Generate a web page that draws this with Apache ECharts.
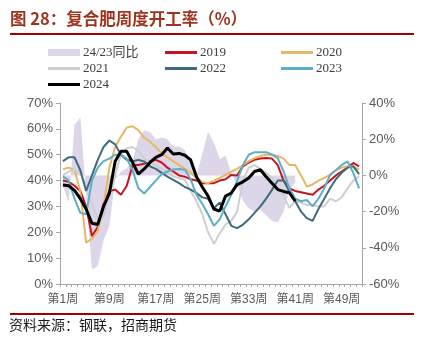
<!DOCTYPE html>
<html>
<head>
<meta charset="utf-8">
<script src="https://cdn.jsdelivr.net/npm/echarts@6/dist/echarts.min.js"></script>
<style>html,body{margin:0;padding:0;background:#fff}#c{width:422px;height:344px}</style>
</head>
<body>
<div id="c"></div>
<script>
var weeks = ['第1周','第2周','第3周','第4周','第5周','第6周','第7周','第8周','第9周','第10周',
'第11周','第12周','第13周','第14周','第15周','第16周','第17周','第18周','第19周','第20周',
'第21周','第22周','第23周','第24周','第25周','第26周','第27周','第28周','第29周','第30周',
'第31周','第32周','第33周','第34周','第35周','第36周','第37周','第38周','第39周','第40周',
'第41周','第42周','第43周','第44周','第45周','第46周','第47周','第48周','第49周','第50周',
'第51周','第52周'];

var yoy2423 = [-6,-15,28,32,-10,-52,-50,-36,-28,-2,2,4,8,20,25,24,20,21,20,16,16,14,6,0,12,24,18,9,11,1,-5,-14,-18,-20,-19,-22,-25,-26,-20,-8,-4];

var y2019 = [40,39.5,38,36,30,18.5,22,31,36,36.5,34.5,38,46,46,46.5,47.4,48,47,45,43.5,42,41.5,40.5,40,39,39,39,40,40.5,42.2,42,45.5,47,48,48.5,48.7,48.5,46,40,37,36,35.5,35,34.5,36.5,38,40,42,43.5,45,46.8,45.5];

var y2020 = [44.4,45,44,36,16,17.5,20.5,30,45,53,57,60.5,61,59.5,56.5,55,53,50.5,49,47.5,46,44.5,43,41,39.5,39,40,41,42.2,43.5,44.5,46,47.5,48.7,49.5,50,50,49.5,48.5,46,46,42,37.7,38.5,40,41,42.2,44,45,45.5,45.5,44.2];

var y2021 = [42,43.5,44.2,43,38,31,25,26,35,42,50.5,52.5,53,51.5,48.5,46.8,46,44.5,43,41.6,41,40.3,36,32,27,20,15.5,19.5,23,24.5,28,40,45,46,44.5,43,41,37,34,29.5,32,31.5,30.5,30.7,30,30,33,32,33.5,37,40,41.6];

var y2022 = [47.5,49,49,44,36,42,48,53,55.5,54,50,48,47.5,48,47.4,45.5,44.5,43,41.5,40.3,39,37.5,36.5,35.2,33.5,33,29.3,31.5,27,22.5,21.6,23,25,27.5,30,33,36.4,40,40,35.8,32,28,25.5,24.4,29,33,37,40.5,43,45,45.5,42.5];

var y2023 = [41.6,40,33,27.5,27,40,45,47.5,48.5,50,50,48.5,44,37,35,37.5,40,42.5,43.5,44.3,44.5,44.2,40.5,34.5,31,27,22.5,25,30,34.5,40,46,50,51,51,51,50,48.7,43.5,37,33,32,32.5,30,33,37,42.2,44,46,47.4,43,37];

var y2024 = [38.3,38,36.2,33,29,23.5,23,30,35,47.5,51.3,51.3,47,42.5,44.5,47,49,50,52.6,50.3,50.5,49.8,48,41.5,37.5,34,29,28.2,34,35.2,38.4,39.5,41,43.5,44.2,41.5,39,36.5,35.8,35.3,32];

var leftTicks = {min:0, max:70, interval:10};
var rightTicks = {min:-60, max:40, interval:20};

var chart = echarts.init(document.getElementById('c'), null, {renderer:'canvas'});
var sans = 'Liberation Sans, Arial, Noto Sans CJK SC, sans-serif';
var serif = 'Liberation Serif, Times New Roman, Noto Sans CJK SC, serif';
var labelColor = '#595959';
var axisColor = '#A6A6A6';

function lineSeries(name, data, color, width, z) {
  return {name:name, type:'line', data:data, showSymbol:false, symbol:'none',
    lineStyle:{color:color, width:width}, itemStyle:{color:color}, z:z, smooth:false};
}
function leg(name, left, top, h) {
  return {data:[name], left:left, top:top, itemWidth:32, itemHeight:h, icon:'rect',
    selectedMode:false, padding:0, itemGap:0,
    textStyle:{fontFamily:serif, fontSize:13, color:'#404040', padding:[0,0,0,-2]}};
}

chart.setOption({
  animation:false,
  title:[
    {text:'图 28：复合肥周度开工率（%）', left:10, top:10, padding:0,
     textStyle:{fontFamily:'Noto Sans CJK SC, sans-serif', fontSize:16.5, fontWeight:'bold', color:'#9E3420'}},
    {text:'资料来源：钢联，招商期货', left:9, top:318, padding:0,
     textStyle:{fontFamily:'Noto Sans CJK SC, sans-serif', fontSize:14, fontWeight:'normal', color:'#1a1a1a'}}
  ],
  graphic:[
    {type:'line', shape:{x1:10, y1:34, x2:414, y2:34}, style:{stroke:'#A00000', lineWidth:2}},
    {type:'line', shape:{x1:10, y1:314, x2:414, y2:314}, style:{stroke:'#A00000', lineWidth:2}}
  ],
  legend:[
    leg('24/23同比', 48, 46, 7),
    leg('2019', 165, 46, 3),
    leg('2020', 281, 46, 3),
    leg('2021', 48, 62, 3),
    leg('2022', 165, 62, 3),
    leg('2023', 281, 62, 3),
    leg('2024', 48, 78, 3)
  ],
  grid:{left:60, right:60, top:103, bottom:60},
  xAxis:{type:'category', data:weeks, boundaryGap:true,
    axisLine:{lineStyle:{color:axisColor, width:1}},
    axisTick:{show:true, interval:0, length:3, lineStyle:{color:axisColor}},
    axisLabel:{interval:7, fontFamily:sans, fontSize:12, color:labelColor, margin:10},
    splitLine:{show:false}},
  yAxis:[
    {type:'value', min:leftTicks.min, max:leftTicks.max, interval:leftTicks.interval, position:'left',
     axisLine:{show:true, lineStyle:{color:axisColor}},
     axisTick:{show:true, length:4, lineStyle:{color:axisColor}},
     axisLabel:{formatter:'{value}%', fontFamily:sans, fontSize:13, color:labelColor, margin:7},
     splitLine:{show:false}},
    {type:'value', min:rightTicks.min, max:rightTicks.max, interval:rightTicks.interval, position:'right',
     axisLine:{show:true, lineStyle:{color:axisColor}},
     axisTick:{show:true, length:4, lineStyle:{color:axisColor}},
     axisLabel:{formatter:'{value}%', fontFamily:sans, fontSize:13, color:labelColor, margin:7},
     splitLine:{show:false}}
  ],
  series:[
    {name:'24/23同比', type:'line', yAxisIndex:1, data:yoy2423, showSymbol:false, symbol:'none',
     lineStyle:{width:0, color:'#DDD5E8'}, itemStyle:{color:'#DDD5E8'},
     areaStyle:{color:'#DDD5E8', opacity:1, origin:0}, z:1},
    lineSeries('2019', y2019, '#C8141E', 2, 3),
    lineSeries('2020', y2020, '#E5B865', 2, 3),
    lineSeries('2021', y2021, '#CFCFCF', 2, 3),
    lineSeries('2022', y2022, '#3E6C7C', 2, 3),
    lineSeries('2023', y2023, '#5FAEC8', 2, 3),
    lineSeries('2024', y2024, '#000000', 3, 4)
  ]
});
</script>
</body>
</html>
